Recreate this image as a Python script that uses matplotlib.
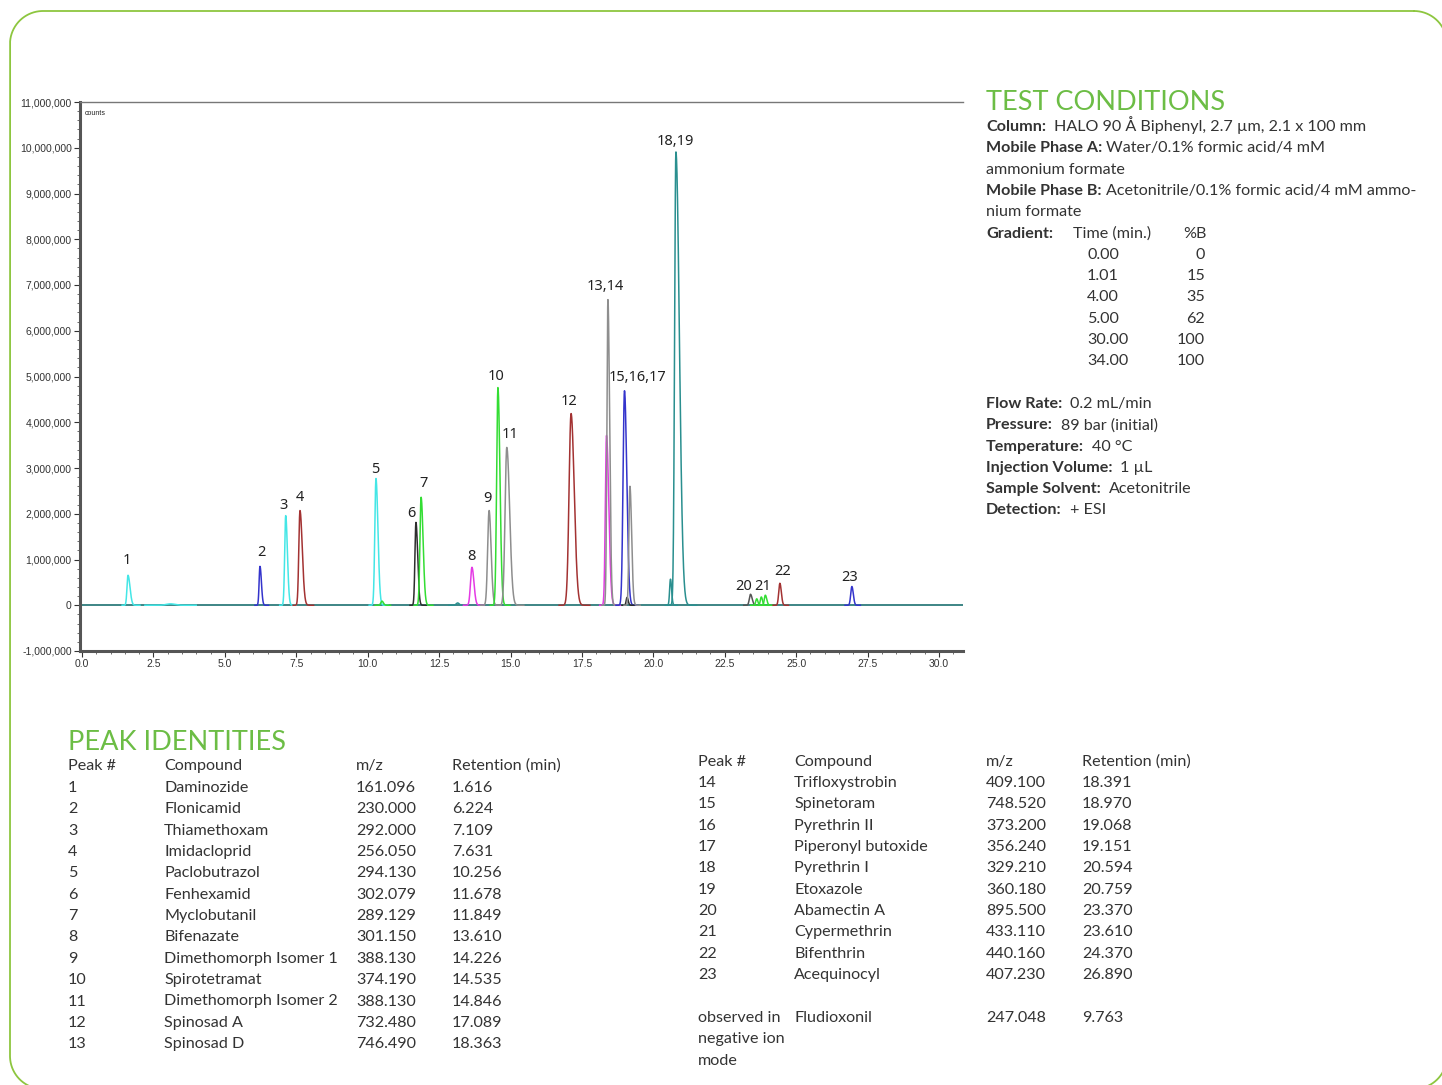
import numpy as np
import matplotlib
matplotlib.use("Agg")
import matplotlib.pyplot as plt
from matplotlib.ticker import FuncFormatter, MultipleLocator

# ---- chromatogram peaks (retention min, height in counts) ----
peak_rt = [1.61, 3.10, 6.23, 7.13, 7.63, 10.29, 10.50, 11.69, 11.87, 13.15, 13.65,
           14.25, 14.56, 14.87, 17.12, 18.36, 18.41, 18.99, 19.08, 19.18, 20.60,
           20.79, 23.40, 23.62, 23.78, 23.92, 24.43, 26.95]
peak_height = [0.655e6, 0.03e6, 0.85e6, 1.96e6, 2.07e6, 2.77e6, 0.09e6, 1.81e6, 2.36e6,
               0.05e6, 0.83e6, 2.07e6, 4.76e6, 3.45e6, 4.19e6, 3.71e6, 6.68e6, 4.69e6,
               0.17e6, 2.60e6, 0.57e6, 9.91e6, 0.24e6, 0.14e6, 0.18e6, 0.22e6, 0.48e6,
               0.41e6]
peak_color = ["#44e6e6", "#44e6e6", "#3434cc", "#44e6e6", "#a33232", "#44e6e6", "#33dd33",
              "#2e2e2e", "#33dd33", "#2a8f8f", "#e43ae4", "#8e8e8e", "#33dd33", "#8e8e8e",
              "#a33232", "#e43ae4", "#8e8e8e", "#3434cc", "#2e2e2e", "#8e8e8e", "#2a8f8f",
              "#2a8f8f", "#555555", "#33dd33", "#33dd33", "#33dd33", "#a33232", "#3434cc"]
sigma_left = [0.035, 0.15, 0.03, 0.035, 0.04, 0.04, 0.04, 0.035, 0.04, 0.05, 0.05,
              0.05, 0.045, 0.06, 0.07, 0.04, 0.035, 0.05, 0.03, 0.035, 0.03,
              0.045, 0.04, 0.035, 0.035, 0.035, 0.04, 0.04]
sigma_right = [0.07, 0.15, 0.05, 0.06, 0.08, 0.07, 0.05, 0.06, 0.07, 0.05, 0.07,
               0.07, 0.07, 0.10, 0.11, 0.08, 0.06, 0.08, 0.04, 0.06, 0.04,
               0.12, 0.06, 0.04, 0.04, 0.05, 0.05, 0.05]

# ---- peak labels ----
label_text = ["1", "2", "3", "4", "5", "6", "7", "8", "9", "10", "11", "12", "13,14",
              "15,16,17", "18,19", "20", "21", "22", "23"]
label_x = [1.58, 6.27, 7.07, 7.63, 10.26, 11.52, 11.97, 13.62, 14.21, 14.49, 14.98, 17.05,
           18.31, 19.46, 20.76, 23.17, 23.84, 24.54, 26.88]
label_y = [0.98e6, 1.16e6, 2.18e6, 2.36e6, 2.97e6, 2.01e6, 2.66e6, 1.07e6, 2.34e6, 5.0e6,
           3.73e6, 4.45e6, 6.96e6, 4.98e6, 10.13e6, 0.41e6, 0.41e6, 0.74e6, 0.61e6]

# ---- tables ----
left_peak = ["1", "2", "3", "4", "5", "6", "7", "8", "9", "10", "11", "12", "13"]
left_compound = ["Daminozide", "Flonicamid", "Thiamethoxam", "Imidacloprid", "Paclobutrazol",
                 "Fenhexamid", "Myclobutanil", "Bifenazate", "Dimethomorph Isomer 1",
                 "Spirotetramat", "Dimethomorph Isomer 2", "Spinosad A", "Spinosad D"]
left_mz = ["161.096", "230.000", "292.000", "256.050", "294.130", "302.079", "289.129",
           "301.150", "388.130", "374.190", "388.130", "732.480", "746.490"]
left_ret = ["1.616", "6.224", "7.109", "7.631", "10.256", "11.678", "11.849", "13.610",
            "14.226", "14.535", "14.846", "17.089", "18.363"]
right_peak = ["14", "15", "16", "17", "18", "19", "20", "21", "22", "23"]
right_compound = ["Trifloxystrobin", "Spinetoram", "Pyrethrin II", "Piperonyl butoxide",
                  "Pyrethrin I", "Etoxazole", "Abamectin A", "Cypermethrin", "Bifenthrin",
                  "Acequinocyl"]
right_mz = ["409.100", "748.520", "373.200", "356.240", "329.210", "360.180", "895.500",
            "433.110", "440.160", "407.230"]
right_ret = ["18.391", "18.970", "19.068", "19.151", "20.594", "20.759", "23.370", "23.610",
             "24.370", "26.890"]
gradient_time = ["0.00", "1.01", "4.00", "5.00", "30.00", "34.00"]
gradient_b = ["0", "15", "35", "62", "100", "100"]

W, H = 1442, 1085
GREEN = "#6cbd45"
TXT = "#333333"
FONT = "Lato"

fig = plt.figure(figsize=(W / 100, H / 100), dpi=100)


def fx(x):
    return x / W


def fy(y):
    return 1 - y / H


# background axes in pixel units for the rounded frame
bg = fig.add_axes([0, 0, 1, 1], zorder=-1)
bg.set_xlim(0, W)
bg.set_ylim(H, 0)
bg.axis("off")


def rounded_outline(x0, y0, x1, y1, r, n=40):
    # polyline only (no bezier codes) so canvas clipping behaves
    pts = []
    corners = [(x1 - r, y0 + r, -90, 0), (x1 - r, y1 - r, 0, 90),
               (x0 + r, y1 - r, 90, 180), (x0 + r, y0 + r, 180, 270)]
    for cx, cy, a0, a1 in corners:
        a = np.radians(np.linspace(a0, a1, n))
        pts.extend(zip(cx + r * np.cos(a), cy + r * np.sin(a)))
    pts.append(pts[0])
    xs, ys = zip(*pts)
    return xs, ys


fxs, fys = rounded_outline(10, 11, 1447, 1089, 33)
bg.plot(fxs, fys, color="#8dc63f", lw=1.3, solid_joinstyle="round")

# ---- chromatogram ----
ax = fig.add_axes([fx(80), fy(651), fx(963) - fx(80), fy(102) - fy(651)])
t = np.linspace(0, 30.84, 8000)
ax.axhline(0, color="#3d8585", lw=1.4, zorder=1)
for rt, h, c, sl, sr in zip(peak_rt, peak_height, peak_color, sigma_left, sigma_right):
    win = (t > rt - 6 * sl) & (t < rt + 6 * sr)
    tw = t[win]
    s = np.where(tw < rt, sl, sr)
    ax.plot(tw, h * np.exp(-0.5 * ((tw - rt) / s) ** 2), color=c, lw=1.1, zorder=2)

for txt, lx, ly in zip(label_text, label_x, label_y):
    ax.text(lx, ly, txt, ha="center", va="center", fontsize=10.5, color="#222222",
            family="Noto Sans")

ax.set_xlim(-0.07, 30.84)
ax.set_ylim(-1e6, 11e6)
ax.xaxis.set_major_locator(MultipleLocator(2.5))
ax.xaxis.set_minor_locator(MultipleLocator(0.5))
ax.yaxis.set_major_locator(MultipleLocator(1e6))
ax.yaxis.set_minor_locator(MultipleLocator(2e5))
ax.yaxis.set_major_formatter(FuncFormatter(lambda v, p: f"{int(round(v)):,}"))
ax.xaxis.set_major_formatter(FuncFormatter(lambda v, p: f"{v:.1f}"))
ax.tick_params(axis="both", which="major", direction="out", length=4, width=0.8,
               labelsize=7.5, colors="#333333", pad=2)
ax.tick_params(axis="both", which="minor", direction="out", length=2, width=0.6,
               colors="#555555")
for lbl in ax.get_xticklabels() + ax.get_yticklabels():
    lbl.set_family("Liberation Sans")
ax.spines["right"].set_visible(False)
ax.spines["left"].set_linewidth(2.2)
ax.spines["left"].set_color("#555555")
ax.spines["bottom"].set_linewidth(2.2)
ax.spines["bottom"].set_color("#555555")
ax.spines["top"].set_linewidth(1.0)
ax.spines["top"].set_color("#777777")
ax.text(0.005, 0.985, "counts", transform=ax.transAxes, fontsize=5, va="top",
        family="Liberation Sans", color="#222222")

# ---- test conditions ----
renderer = fig.canvas.get_renderer()
BODY = 11.6


def put(x, y, s, **kw):
    kw.setdefault("fontsize", BODY)
    kw.setdefault("color", TXT)
    kw.setdefault("family", FONT)
    return fig.text(fx(x), fy(y), s, va="baseline", **kw)


def labelled(x, y, label, value, gap=8):
    t1 = put(x, y, label, fontweight="bold")
    bb = t1.get_window_extent(renderer)
    put(bb.x1 + gap, y, value)


put(986, 110, "TEST CONDITIONS", fontsize=19.5, color=GREEN)
base = 131
step = 21.3
labelled(986, base, "Column:", "HALO 90 Å Biphenyl, 2.7 µm, 2.1 x 100 mm")
labelled(986, base + step, "Mobile Phase A:", "Water/0.1% formic acid/4 mM", gap=4)
put(986, base + 2 * step, "ammonium formate")
labelled(986, base + 3 * step, "Mobile Phase B:", "Acetonitrile/0.1% formic acid/4 mM ammo-", gap=4)
put(986, base + 4 * step, "nium formate")
put(986, base + 5 * step, "Gradient:", fontweight="bold")
put(1073, base + 5 * step, "Time (min.)")
put(1183, base + 5 * step, "%B")
for i, (gt, gb) in enumerate(zip(gradient_time, gradient_b)):
    put(1087, base + (6 + i) * step, gt)
    put(1205, base + (6 + i) * step, gb, ha="right")
cond = [("Flow Rate:", "0.2 mL/min"), ("Pressure:", "89 bar (initial)"),
        ("Temperature:", "40 °C"), ("Injection Volume:", "1 µL"),
        ("Sample Solvent:", "Acetonitrile"), ("Detection:", "+ ESI")]
for i, (lab, val) in enumerate(cond):
    labelled(986, 408 + i * step, lab, val)

# ---- peak identities ----
put(68, 750, "PEAK IDENTITIES", fontsize=19.5, color=GREEN)
cols_left = [68, 164, 356, 452]
cols_right = [698, 794, 986, 1082]
heads = ["Peak #", "Compound", "m/z", "Retention (min)"]
for cx, hd in zip(cols_left, heads):
    put(cx, 770, hd)
for i, row in enumerate(zip(left_peak, left_compound, left_mz, left_ret)):
    for cx, v in zip(cols_left, row):
        put(cx, 792 + i * 21.35, v)
for cx, hd in zip(cols_right, heads):
    put(cx, 766, hd)
for i, row in enumerate(zip(right_peak, right_compound, right_mz, right_ret)):
    for cx, v in zip(cols_right, row):
        put(cx, 787 + i * 21.35, v)
yb = 787 + 11 * 21.35
put(698, yb, "observed in")
put(698, yb + 21.35, "negative ion")
put(698, yb + 2 * 21.35, "mode")
put(794, yb, "Fludioxonil")
put(986, yb, "247.048")
put(1082, yb, "9.763")

fig.savefig("out.png", dpi=100)
